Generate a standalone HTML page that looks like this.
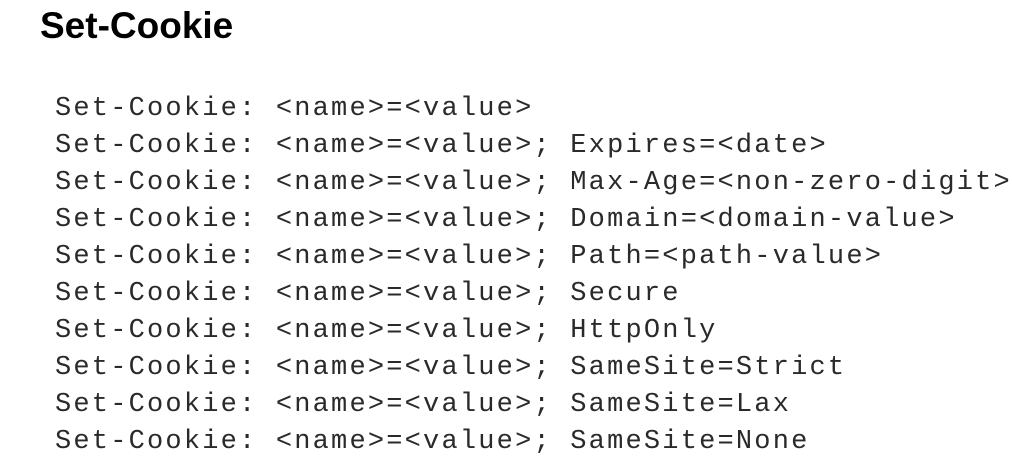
<!DOCTYPE html>
<html><head><style>
html,body{margin:0;padding:0;background:#fff;width:1012px;height:459px;overflow:hidden}
.t{position:absolute;left:40px;top:0;font:bold 37px "Liberation Sans",sans-serif;color:#000;line-height:1;}
.l{position:absolute;left:55px;font:27px "Liberation Mono",monospace;letter-spacing:2.2px;color:#2a2a2a;white-space:pre;line-height:1}
</style></head><body>
<div class="t" style="top:7px">Set-Cookie</div>
<div class="l" style="top:96px">Set-Cookie: &lt;name&gt;=&lt;value&gt;</div>
<div class="l" style="top:133px">Set-Cookie: &lt;name&gt;=&lt;value&gt;; Expires=&lt;date&gt;</div>
<div class="l" style="top:170px">Set-Cookie: &lt;name&gt;=&lt;value&gt;; Max-Age=&lt;non-zero-digit&gt;</div>
<div class="l" style="top:207px">Set-Cookie: &lt;name&gt;=&lt;value&gt;; Domain=&lt;domain-value&gt;</div>
<div class="l" style="top:244px">Set-Cookie: &lt;name&gt;=&lt;value&gt;; Path=&lt;path-value&gt;</div>
<div class="l" style="top:281px">Set-Cookie: &lt;name&gt;=&lt;value&gt;; Secure</div>
<div class="l" style="top:318px">Set-Cookie: &lt;name&gt;=&lt;value&gt;; HttpOnly</div>
<div class="l" style="top:355px">Set-Cookie: &lt;name&gt;=&lt;value&gt;; SameSite=Strict</div>
<div class="l" style="top:392px">Set-Cookie: &lt;name&gt;=&lt;value&gt;; SameSite=Lax</div>
<div class="l" style="top:429px">Set-Cookie: &lt;name&gt;=&lt;value&gt;; SameSite=None</div>
</body></html>
